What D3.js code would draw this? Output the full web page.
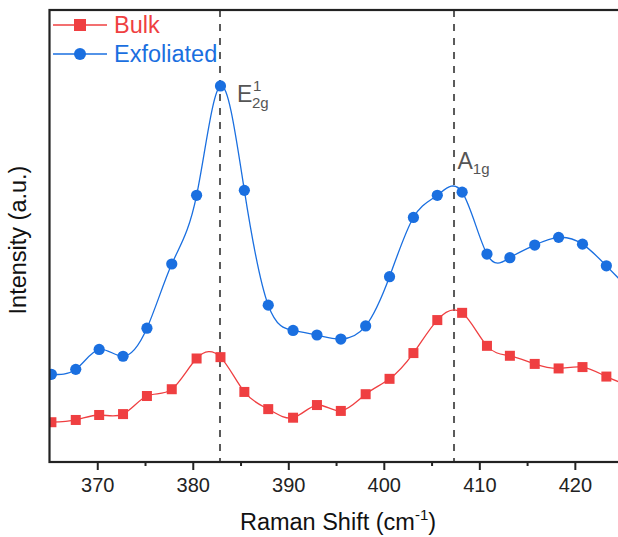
<!DOCTYPE html>
<html>
<head>
<meta charset="utf-8">
<script src="https://cdn.jsdelivr.net/npm/d3@7"></script>
<style>
  body { margin: 0; background: #fff; }
  svg { display: block; font-family: "Liberation Sans", Arial, sans-serif; }
</style>
</head>
<body>
<div id="chart"></div>
<script>
// Raman shift (cm-1) of each measured point
const shift = [365.2, 367.75, 370.2, 372.7, 375.2, 377.8, 380.4, 382.9, 385.4, 387.9, 390.5, 393.0,
  395.5, 398.1, 400.6, 403.1, 405.6, 408.2, 410.8, 413.2, 415.8, 418.3, 420.8, 423.3, 425.8];
// intensities in arbitrary units
const bulk = [88, 93, 104, 106, 146, 161, 229, 232, 155, 117, 98, 126,
  113, 150, 184, 241, 314, 330, 257, 235, 217, 207, 210, 189, 168];
const exfoliated = [194, 205, 249, 234, 296, 438, 590, 832, 601, 347, 291, 281,
  272, 301, 410, 541, 590, 597, 460, 452, 480, 497, 482, 434, 380];
const peaks = [382.85, 407.35];
const xTicks = [370, 380, 390, 400, 410, 420];
const xMinor = [375, 385, 395, 405, 415];

const red = "#ef3f41";
const blue = "#1a6fe0";

const width = 618, height = 537;
const margin = {left: 49.5, top: 10, bottom: 462, right: 622.6};

const svg = d3.select("#chart").append("svg")
    .attr("width", width)
    .attr("height", height);

const x = d3.scaleLinear().domain([365, 425]).range([margin.left, margin.right]);
const y = d3.scaleLinear().domain([0, 1000]).range([margin.bottom, margin.top]);

svg.append("clipPath").attr("id", "plot")
  .append("rect")
    .attr("x", margin.left).attr("y", margin.top)
    .attr("width", margin.right - margin.left)
    .attr("height", margin.bottom - margin.top);

// dashed peak markers
svg.append("g")
  .selectAll("line")
  .data(peaks)
  .join("line")
    .attr("x1", d => x(d)).attr("x2", d => x(d))
    .attr("y1", margin.top).attr("y2", margin.bottom)
    .attr("stroke", "#5a5a5a")
    .attr("stroke-width", 2)
    .attr("stroke-dasharray", "7,7");

const series = [
  {name: "Bulk", values: bulk, color: red, shape: "square"},
  {name: "Exfoliated", values: exfoliated, color: blue, shape: "circle"}
];

const line = d3.line()
    .x((d, i) => x(shift[i]))
    .y(d => y(d))
    .curve(d3.curveNatural);

const plot = svg.append("g").attr("clip-path", "url(#plot)");

series.forEach(s => {
  plot.append("path")
    .attr("d", line(s.values))
    .attr("fill", "none")
    .attr("stroke", s.color)
    .attr("stroke-width", 1.3);

  if (s.shape === "square") {
    plot.append("g").selectAll("rect")
      .data(s.values)
      .join("rect")
        .attr("x", (d, i) => x(shift[i]) - 5)
        .attr("y", d => y(d) - 5)
        .attr("width", 10).attr("height", 10)
        .attr("fill", s.color);
  } else {
    plot.append("g").selectAll("circle")
      .data(s.values)
      .join("circle")
        .attr("cx", (d, i) => x(shift[i]))
        .attr("cy", d => y(d))
        .attr("r", 5.6)
        .attr("fill", s.color);
  }
});

// frame
svg.append("rect")
    .attr("x", margin.left).attr("y", margin.top)
    .attr("width", margin.right - margin.left)
    .attr("height", margin.bottom - margin.top)
    .attr("fill", "none")
    .attr("stroke", "#222")
    .attr("stroke-width", 2.2);

// x axis
const xAxis = svg.append("g")
    .attr("transform", `translate(0,${margin.bottom})`)
    .call(d3.axisBottom(x).tickValues(xTicks).tickSize(8).tickSizeOuter(0));
xAxis.select(".domain").remove();
xAxis.selectAll(".tick line").attr("stroke", "#222").attr("stroke-width", 2);
xAxis.selectAll(".tick text")
    .attr("font-family", "Liberation Sans, Arial, sans-serif")
    .attr("font-size", 20)
    .attr("fill", "#222")
    .attr("dy", "0.95em");

svg.append("g")
    .attr("transform", `translate(0,${margin.bottom})`)
    .call(d3.axisBottom(x).tickValues(xMinor).tickSize(4).tickFormat(""))
    .call(g => g.select(".domain").remove())
    .call(g => g.selectAll(".tick line").attr("stroke", "#222").attr("stroke-width", 2));

// axis titles
const xTitle = svg.append("text")
    .attr("x", 338)
    .attr("y", 530)
    .attr("text-anchor", "middle")
    .attr("font-size", 23.5)
    .attr("fill", "#111");
xTitle.append("tspan").text("Raman Shift (cm");
xTitle.append("tspan").attr("font-size", 15).attr("dy", -10).text("-1");
xTitle.append("tspan").attr("dy", 10).text(")");

svg.append("text")
    .attr("transform", "translate(26,240) rotate(-90)")
    .attr("text-anchor", "middle")
    .attr("font-size", 23.5)
    .attr("fill", "#111")
    .text("Intensity (a.u.)");

// peak labels
const e2g = svg.append("text")
    .attr("x", 237)
    .attr("y", 102)
    .attr("font-size", 23)
    .attr("fill", "#555");
e2g.append("tspan").text("E");
e2g.append("tspan").attr("x", 253).attr("dy", -11).attr("font-size", 15).text("1");
e2g.append("tspan").attr("x", 252).attr("dy", 17).attr("font-size", 15).text("2g");

const a1g = svg.append("text")
    .attr("x", 457.5)
    .attr("y", 168.5)
    .attr("font-size", 23)
    .attr("fill", "#555");
a1g.append("tspan").text("A");
a1g.append("tspan").attr("dy", 5.5).attr("font-size", 15).text("1g");

// legend
const legend = svg.append("g")
  .selectAll("g")
  .data(series)
  .join("g")
    .attr("transform", (d, i) => `translate(0,${25 + i * 29})`);

legend.append("line")
    .attr("x1", 53).attr("x2", 107)
    .attr("stroke", d => d.color)
    .attr("stroke-width", 1.3);

legend.filter(d => d.shape === "square").append("rect")
    .attr("x", 74).attr("y", -6)
    .attr("width", 12).attr("height", 12)
    .attr("fill", d => d.color);

legend.filter(d => d.shape === "circle").append("circle")
    .attr("cx", 80).attr("r", 6)
    .attr("fill", d => d.color);

legend.append("text")
    .attr("x", 114)
    .attr("y", 8)
    .attr("font-size", 23.5)
    .attr("fill", d => d.color)
    .text(d => d.name);
</script>
</body>
</html>
